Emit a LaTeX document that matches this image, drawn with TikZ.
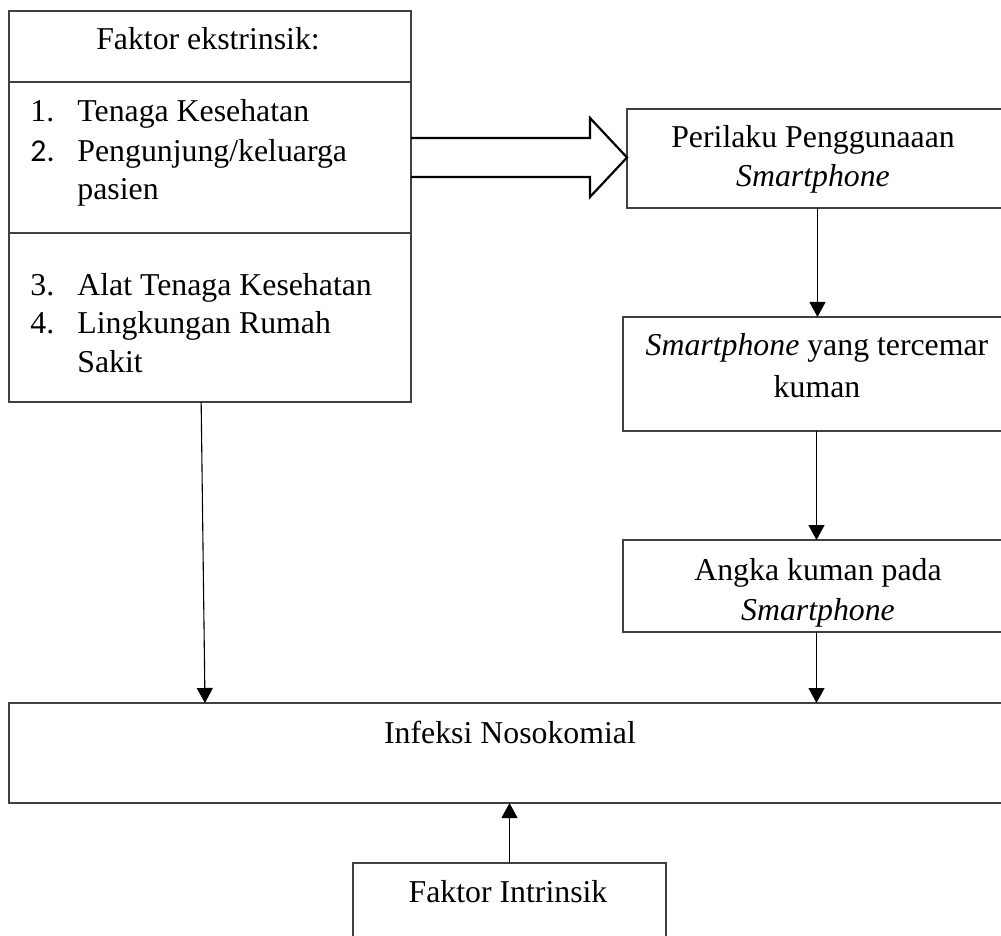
\documentclass[tikz,border=0pt]{standalone}
\usepackage{fontspec}
\setmainfont{Liberation Serif}
\newfontfamily\calib{Carlito}
\usetikzlibrary{arrows.meta,calc}
\begin{document}
\begin{tikzpicture}[x=0.5pt,y=-0.5pt,
  box/.style={draw=black!75, line width=0.6pt, rectangle, inner sep=0pt, outer sep=0pt},
  txt/.style={inner sep=0pt, font=\fontsize{15.9}{19}\selectfont},
  arr/.style={-{Triangle[width=8pt,length=7.5pt]}, line width=0.55pt, draw=black}]
\useasboundingbox (0,0) rectangle (1001,936);
% boxes
\node[box, minimum width=201pt, minimum height=195.5pt] (outer) at (210,206.5) {};
\node[box, minimum width=201pt, minimum height=75.5pt] (mid) at (210,157.5) {};
\node[box, minimum width=190.5pt, minimum height=49.5pt] (peri) at (817.5,158.5) {};
\node[box, minimum width=193.5pt, minimum height=57pt] (smart) at (816.5,374) {};
\node[box, minimum width=193.5pt, minimum height=46pt] (angka) at (816.5,586) {};
\node[box, minimum width=501pt, minimum height=50pt] (infeksi) at (510,753) {};
\node[box, minimum width=156.5pt, minimum height=43.5pt] (intr) at (509.5,906.5) {};
% texts
\node[txt, anchor=base] (t0) at (208,50) {Faktor ekstrinsik:};
\node[txt, anchor=base west] (n1) at (30,122) {1.};
\node[txt, anchor=base west] (i1) at (77,122) {Tenaga Kesehatan};
\node[txt, anchor=base west] (n2) at (30,162) {\calib 2.};
\node[txt, anchor=base west] (i2) at (77,162) {Pengunjung/keluarga};
\node[txt, anchor=base west] (i2b) at (77,200) {pasien};
\node[txt, anchor=base west] (n3) at (30,295) {3.};
\node[txt, anchor=base west] (i3) at (77,295) {Alat Tenaga Kesehatan};
\node[txt, anchor=base west] (n4) at (30,333) {4.};
\node[txt, anchor=base west] (i4) at (77,333) {Lingkungan Rumah};
\node[txt, anchor=base west] (i4b) at (77,372) {Sakit};
\node[txt, anchor=base] (p1) at (813,148) {Perilaku Penggunaaan};
\node[txt, anchor=base] (p2) at (813,187) {\textit{Smartphone}};
\node[txt, anchor=base] (s1) at (817,355) {\textit{Smartphone} yang tercemar};
\node[txt, anchor=base] (s2) at (817,397) {kuman};
\node[txt, anchor=base] (a1) at (818,580) {Angka kuman pada};
\node[txt, anchor=base] (a2) at (818,620) {\textit{Smartphone}};
\node[txt, anchor=base] (f1) at (510,743) {Infeksi Nosokomial};
\node[txt, anchor=base] (g1) at (508,902) {Faktor Intrinsik};
% block arrow
\coordinate (ta) at (mid.east);
\coordinate (tb) at (peri.west);
\draw[line width=1.1pt, line join=miter]
  ($(ta)+(0,-19.5)$) -- ($(tb |- ta)+(-37,-19.5)$) -- ($(tb |- ta)+(-37,-39.5)$)
  -- (tb |- ta) -- ($(tb |- ta)+(-37,39.5)$) -- ($(tb |- ta)+(-37,19.5)$) -- ($(ta)+(0,19.5)$);
% connectors
\draw[arr] ($(outer.south west)!0.478!(outer.south east)$) -- ($(infeksi.north west)!0.1956!(infeksi.north east)$);
\draw[arr] (peri.south) -- (peri.south |- smart.north);
\draw[arr] (smart.south) -- (smart.south |- angka.north);
\draw[arr] (angka.south) -- (angka.south |- infeksi.north);
\draw[arr] (intr.north) -- (intr.north |- infeksi.south);
\end{tikzpicture}
\end{document}
